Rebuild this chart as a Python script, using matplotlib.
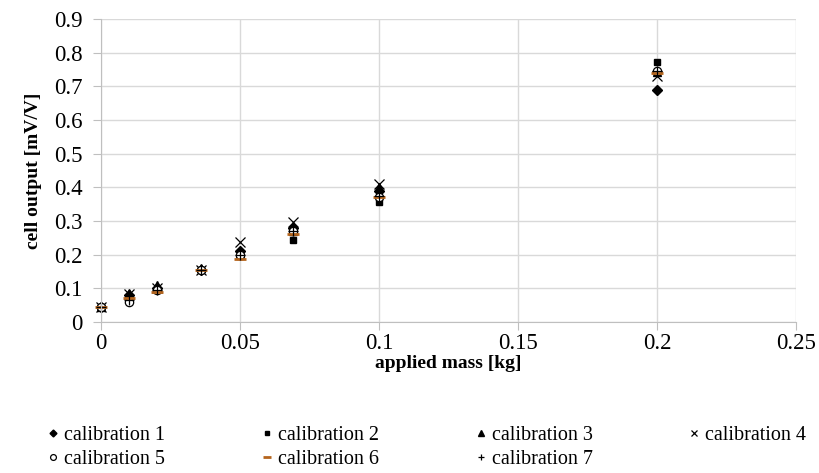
import numpy as np
import matplotlib.pyplot as plt
from matplotlib.ticker import FuncFormatter

plt.rcParams['font.family'] = ['Liberation Serif', 'DejaVu Serif']

# applied mass [kg]
mass = [0, 0.01, 0.02, 0.036, 0.05, 0.069, 0.1, 0.2]

# cell output [mV/V] per calibration run
cal1 = [0.045, 0.080, 0.100, 0.155, 0.210, 0.280, 0.390, 0.688]
cal2 = [0.045, 0.075, 0.095, 0.155, 0.195, 0.245, 0.356, 0.771]
cal3 = [0.045, 0.086, 0.110, 0.160, 0.205, 0.270, 0.400, 0.742]
cal4 = [0.045, 0.082, 0.102, 0.155, 0.237, 0.297, 0.410, 0.730]
cal5 = [0.045, 0.060, 0.095, 0.155, 0.200, 0.270, 0.370, 0.745]
cal6 = [0.045, 0.070, 0.090, 0.155, 0.188, 0.262, 0.370, 0.739]
cal7 = [0.045, 0.065, 0.095, 0.155, 0.200, 0.270, 0.375, 0.745]

series = [cal1, cal2, cal3, cal4, cal5, cal6, cal7]
labels = ['calibration %d' % i for i in range(1, 8)]
styles = [
    dict(marker='D', ms=5, color='black', mfc='black'),
    dict(marker='s', ms=5, color='black', mfc='black'),
    dict(marker='^', ms=6, color='black', mfc='black'),
    dict(marker='x', ms=7, color='black', mew=0.9),
    dict(marker='o', ms=6, color='black', mfc='white', mew=0.9),
    dict(marker='_', ms=8, color='#b5651d', mew=2),
    dict(marker='+', ms=7, color='black', mew=0.9),
]

fig = plt.figure(figsize=(8.2, 4.73), dpi=100)
ax = fig.add_axes([101/820, 1 - 322/473, (796 - 101)/820, (322 - 19)/473])

handles = []
for ys, lab, st in zip(series, labels, styles):
    h, = ax.plot(mass, ys, linestyle='none', label=lab, clip_on=False, **st)
    handles.append(h)

ax.set_xlim(0, 0.25)
ax.set_ylim(0, 0.9)
ax.set_xticks(np.arange(0, 0.251, 0.05))
ax.set_yticks(np.arange(0, 0.91, 0.1))
fmt = FuncFormatter(lambda v, p: '%g' % round(v, 3))
ax.xaxis.set_major_formatter(fmt)
ax.yaxis.set_major_formatter(fmt)

ax.grid(True, color='#d9d9d9', lw=1)
ax.set_axisbelow(True)
for s in ['top', 'right']:
    ax.spines[s].set_visible(False)
for s in ['left', 'bottom']:
    ax.spines[s].set_color('#bfbfbf')
ax.tick_params(direction='out', length=6, color='#bfbfbf', labelsize=16.5)
ax.tick_params(axis='x', pad=2)
ax.tick_params(axis='y', pad=7)

ax.set_xlabel('applied mass [kg]', fontsize=14, fontweight='bold')
ax.set_ylabel('cell output [mV/V]', fontsize=14, fontweight='bold')
ax.xaxis.set_label_coords(0.5, -0.11)
ax.yaxis.set_label_coords(-0.085, 0.5)

# row-major legend: reorder for matplotlib's column filling
order = [0, 4, 1, 5, 2, 6, 3]
fig.legend([handles[i] for i in order], [labels[i] for i in order],
           ncol=4, loc='upper left', bbox_to_anchor=(40/820, 1 - 418/473),
           frameon=False, fontsize=14.5, handlelength=0.5, handletextpad=0.3,
           columnspacing=4.8, labelspacing=0.25, borderaxespad=0,
           markerscale=0.7)

fig.savefig('out.png', dpi=100)
